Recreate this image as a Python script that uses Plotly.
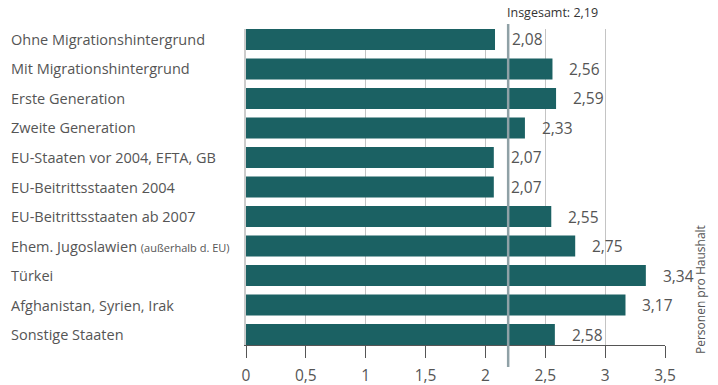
import plotly.graph_objects as go

categories = [
    "Ohne Migrationshintergrund",
    "Mit Migrationshintergrund",
    "Erste Generation",
    "Zweite Generation",
    "EU-Staaten vor 2004, EFTA, GB",
    "EU-Beitrittsstaaten 2004",
    "EU-Beitrittsstaaten ab 2007",
    "Ehem. Jugoslawien <span style='font-size:11px'>(außerhalb d. EU)</span>",
    "Türkei",
    "Afghanistan, Syrien, Irak",
    "Sonstige Staaten",
]
values = [2.08, 2.56, 2.59, 2.33, 2.07, 2.07, 2.55, 2.75, 3.34, 3.17, 2.58]
total = 2.19
total_label = "Insgesamt: 2,19"
axis_title = "Personen pro Haushalt"
x_ticks = [0, 0.5, 1, 1.5, 2, 2.5, 3, 3.5]

FONT = "Open Sans"
TXT = "#555555"
BAR = "#1b6163"

n = len(categories)
idx = list(range(n))

fig = go.Figure()
fig.add_trace(go.Bar(
    x=values, y=idx, orientation="h",
    marker=dict(color=BAR, line=dict(width=0)),
    hoverinfo="skip",
))

annotations = []
for i, (c, v) in enumerate(zip(categories, values)):
    annotations.append(dict(
        x=0, y=i, xref="x", yref="y", text=c, showarrow=False,
        xanchor="left", xshift=-237, font=dict(family=FONT, size=14.5, color=TXT),
    ))
    annotations.append(dict(
        x=v, y=i, xref="x", yref="y", text=f"{v:.2f}".replace(".", ","),
        showarrow=False, xanchor="left", xshift=15,
        font=dict(family=FONT, size=15.5, color=TXT),
    ))

annotations.append(dict(
    x=total, y=1.0, xref="x", yref="paper", yanchor="bottom", yshift=6,
    xanchor="left", xshift=-3, text=total_label, showarrow=False,
    font=dict(family=FONT, size=12.5, color="#333333"),
))
annotations.append(dict(
    x=1.0, y=0.174, xref="paper", yref="paper", xanchor="center", yanchor="middle",
    xshift=35, text=axis_title, textangle=-90, showarrow=False,
    font=dict(family=FONT, size=12, color=TXT),
))

fig.update_layout(
    width=718, height=385,
    margin=dict(l=246, r=53, t=29, b=40),
    paper_bgcolor="white", plot_bgcolor="white",
    showlegend=False,
    separators=",.",
    bargap=0.29,
    annotations=annotations,
    shapes=[dict(
        type="line", xref="x", yref="paper", x0=total, x1=total, y0=-0.07, y1=1.016,
        line=dict(color="#8fa1a6", width=2.5), layer="above",
    )],
    xaxis=dict(
        range=[0, 3.5], tickvals=x_ticks, showgrid=True, gridcolor="#c4c4c4", gridwidth=1,
        zeroline=False, showline=True, linecolor="#555555", linewidth=1,
        ticks="outside", ticklen=12, tickcolor="#555555", tickwidth=1,
        ticklabelstandoff=4, automargin=False,
        tickfont=dict(family=FONT, size=15.5, color=TXT), fixedrange=True,
    ),
    yaxis=dict(
        range=[n - 1 + 0.355, -0.355], showticklabels=False, showgrid=False,
        zeroline=False, showline=True, linecolor="#cccccc", linewidth=2, ticks="",
        automargin=False, fixedrange=True,
    ),
)

fig.write_html(
    "out.html",
    config={"displayModeBar": False},
    post_script="document.body.style.margin='0';document.body.style.overflow='hidden';",
)
